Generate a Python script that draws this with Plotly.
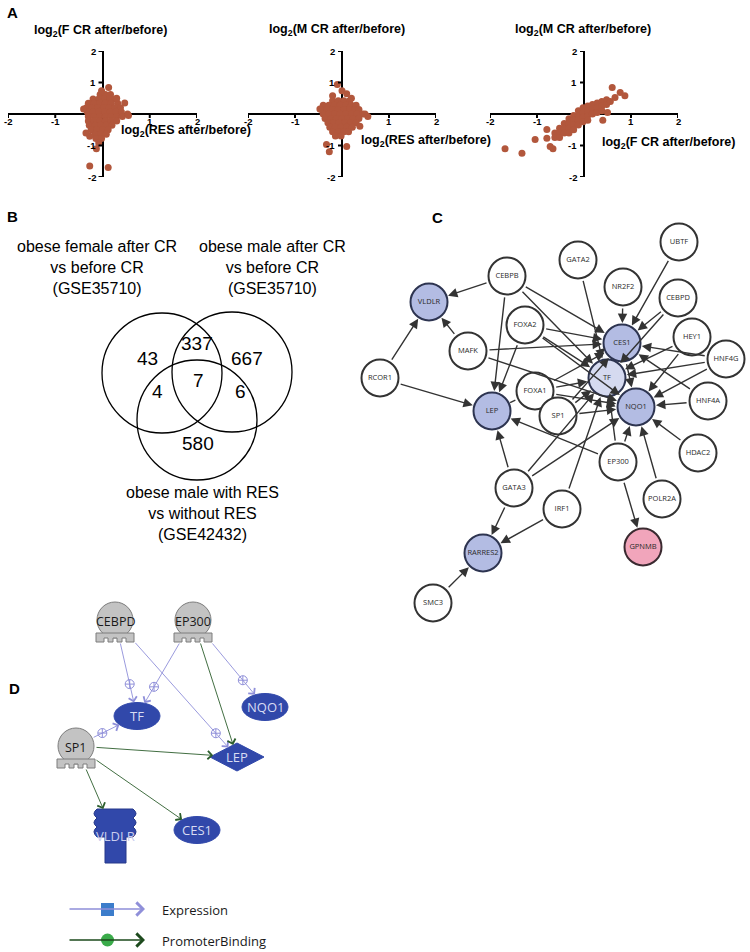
import math
import plotly.graph_objects as go

W, H = 750, 952
BROWN = "#b2573c"

# ---------------- Panel A data (log2 ratios) ----------------
a1_points = [  # x: log2(RES after/before), y: log2(F CR after/before)
    (-0.05, 0.62), (0.06, 0.62), (0.17, 0.62),
    (-0.2, 0.48), (-0.08, 0.48), (0.04, 0.48), (0.15, 0.48), (0.27, 0.48),
    (-0.3, 0.34), (-0.18, 0.34), (-0.06, 0.34), (0.06, 0.34), (0.18, 0.34), (0.32, 0.34),
    (-0.34, 0.2), (-0.22, 0.2), (-0.1, 0.2), (0.02, 0.2), (0.14, 0.2), (0.26, 0.2), (0.38, 0.2),
    (-0.32, 0.06), (-0.2, 0.06), (-0.08, 0.06), (0.04, 0.06), (0.16, 0.06), (0.28, 0.06), (0.4, 0.06),
    (-0.3, -0.08), (-0.18, -0.08), (-0.06, -0.08), (0.06, -0.08), (0.18, -0.08), (0.3, -0.08), (0.42, -0.08),
    (-0.3, -0.22), (-0.18, -0.22), (-0.06, -0.22), (0.06, -0.22), (0.18, -0.22), (0.3, -0.22),
    (-0.28, -0.36), (-0.16, -0.36), (-0.04, -0.36), (0.08, -0.36), (0.2, -0.36),
    (-0.24, -0.5), (-0.12, -0.5), (0.0, -0.5), (0.12, -0.5),
    (-0.16, -0.64), (-0.04, -0.64), (0.08, -0.64),
    (-0.14, -0.78), (-0.02, -0.78), (-0.08, -0.92),
    (0.13, 0.84), (-0.02, 0.74), (-0.4, 0.16), (0.53, 0.0), (0.47, 0.35), (0.55, -0.05),
    (-0.27, -0.71), (-0.13, -1.1), (-0.27, -1.65), (0.12, -1.7), (-0.35, -0.6), (0.3, 0.5),
]
a2_points = [  # x: log2(RES after/before), y: log2(M CR after/before)
    (-0.2, 0.42), (-0.08, 0.42), (0.04, 0.42), (0.16, 0.42),
    (-0.4, 0.28), (-0.28, 0.28), (-0.16, 0.28), (-0.04, 0.28), (0.08, 0.28), (0.2, 0.28), (0.3, 0.28),
    (-0.44, 0.14), (-0.32, 0.14), (-0.2, 0.14), (-0.08, 0.14), (0.04, 0.14), (0.16, 0.14), (0.28, 0.14), (0.36, 0.14),
    (-0.4, 0.0), (-0.28, 0.0), (-0.16, 0.0), (-0.04, 0.0), (0.08, 0.0), (0.2, 0.0), (0.32, 0.0), (0.44, 0.0),
    (-0.36, -0.14), (-0.24, -0.14), (-0.12, -0.14), (0.0, -0.14), (0.12, -0.14), (0.24, -0.14), (0.36, -0.14),
    (-0.3, -0.28), (-0.18, -0.28), (-0.06, -0.28), (0.06, -0.28), (0.18, -0.28), (0.3, -0.28),
    (-0.26, -0.42), (-0.14, -0.42), (-0.02, -0.42), (0.1, -0.42), (0.22, -0.42),
    (-0.2, -0.56), (-0.08, -0.56), (0.04, -0.56), (0.14, -0.56),
    (-0.14, -0.7), (-0.02, -0.7),
    (-0.1, 0.94), (0.0, 0.74), (0.1, 0.64), (-0.2, 0.58), (0.49, 0.0), (0.55, -0.08),
    (-0.33, -0.97), (-0.27, -1.2), (0.1, -1.03), (0.38, -0.39), (-0.47, 0.16), (0.2, 0.5),
]
a3_points = [  # x: log2(F CR after/before), y: log2(M CR after/before)
    (-0.62, -0.6), (-0.62, -0.75),
    (-0.52, -0.45), (-0.52, -0.6), (-0.52, -0.75),
    (-0.42, -0.3), (-0.42, -0.45), (-0.42, -0.6),
    (-0.32, -0.15), (-0.32, -0.3), (-0.32, -0.45), (-0.32, -0.6),
    (-0.22, -0.05), (-0.22, -0.2), (-0.22, -0.35), (-0.22, -0.5),
    (-0.12, 0.1), (-0.12, -0.05), (-0.12, -0.2), (-0.12, -0.35),
    (-0.02, 0.2), (-0.02, 0.05), (-0.02, -0.1), (-0.02, -0.25),
    (0.08, 0.25), (0.08, 0.1), (0.08, -0.05), (0.08, -0.2),
    (0.18, 0.3), (0.18, 0.15), (0.18, 0.0),
    (0.28, 0.35), (0.28, 0.2), (0.28, 0.05),
    (0.38, 0.4), (0.38, 0.25), (0.38, 0.1),
    (0.48, 0.45), (0.48, 0.3), (0.56, 0.4),
    (-1.68, -1.1), (-1.32, -1.25), (-1.04, -0.81), (-0.79, -0.49), (-0.72, -1.03), (-0.66, -1.1),
    (0.6, 0.84), (0.77, 0.68), (0.87, 0.58), (0.66, 0.52), (-0.79, -0.77), (0.4, -0.2), (0.5, 0.05),
]
a_y_titles = ["log<sub>2</sub>(F CR after/before)", "log<sub>2</sub>(M CR after/before)",
              "log<sub>2</sub>(M CR after/before)"]
a_x_titles = ["log<sub>2</sub>(RES after/before)", "log<sub>2</sub>(RES after/before)",
              "log<sub>2</sub>(F CR after/before)"]
a_ticks = [-2, -1, 1, 2]

# ---------------- Panel B data (Venn counts) ----------------
venn_sets = ["obese female after CR<br>vs before CR<br>(GSE35710)",
             "obese male after CR<br>vs before CR<br>(GSE35710)",
             "obese male with RES<br>vs without RES<br>(GSE42432)"]
venn_counts = [43, 337, 667, 7, 4, 6, 580]

# ---------------- Panel C data (regulatory network) ----------------
c_nodes = ["UBTF", "GATA2", "CEBPB", "NR2F2", "CEBPD", "VLDLR", "FOXA2", "CES1", "HEY1", "MAFK",
           "HNF4G", "RCOR1", "TF", "FOXA1", "NQO1", "HNF4A", "LEP", "SP1", "HDAC2", "EP300",
           "GATA3", "POLR2A", "IRF1", "RARRES2", "GPNMB", "SMC3"]
c_x = [679, 578, 507, 623, 678, 429, 525, 622, 692, 468, 726, 380, 607, 535, 636, 708, 492, 558,
       698, 618, 514, 662, 562, 483, 643, 433]
c_y = [242, 260, 276, 287, 298, 302, 325, 343, 337, 351, 359, 378, 378, 391, 407, 401, 411, 416,
       453, 462, 488, 499, 509, 553, 547, 603]
c_down = ["VLDLR", "CES1", "NQO1", "LEP", "RARRES2"]
c_light = ["TF"]
c_up = ["GPNMB"]
c_edges = [
    ("CEBPB", "VLDLR"), ("CEBPB", "LEP"), ("CEBPB", "CES1"), ("CEBPB", "TF"),
    ("MAFK", "VLDLR"), ("MAFK", "CES1"), ("MAFK", "NQO1"),
    ("RCOR1", "VLDLR"), ("RCOR1", "LEP"),
    ("FOXA2", "LEP"), ("FOXA2", "CES1"), ("FOXA2", "TF"), ("FOXA2", "NQO1"),
    ("GATA2", "TF"), ("NR2F2", "CES1"), ("UBTF", "CES1"), ("CEBPD", "CES1"), ("CEBPD", "TF"),
    ("HEY1", "TF"), ("HEY1", "NQO1"),
    ("HNF4G", "CES1"), ("HNF4G", "TF"), ("HNF4G", "NQO1"),
    ("HNF4A", "NQO1"), ("HNF4A", "CES1"), ("HDAC2", "NQO1"),
    ("FOXA1", "CES1"), ("FOXA1", "TF"), ("FOXA1", "NQO1"),
    ("SP1", "TF"), ("SP1", "NQO1"), ("SP1", "CES1"),
    ("EP300", "LEP"), ("EP300", "NQO1"), ("EP300", "TF"), ("EP300", "GPNMB"),
    ("GATA3", "LEP"), ("GATA3", "RARRES2"), ("GATA3", "TF"), ("GATA3", "NQO1"),
    ("IRF1", "RARRES2"), ("IRF1", "TF"), ("POLR2A", "NQO1"), ("SMC3", "RARRES2"),
    ("CES1", "NQO1"),
]
c_plain_edges = [("FOXA1", "LEP")]

# ---------------- Panel D data (IPA pathway) ----------------
d_regs = ["CEBPD", "EP300", "SP1"]
d_reg_x = [115, 193, 76]
d_reg_y = [620, 620, 746]
d_targets = ["TF", "NQO1", "LEP", "CES1", "VLDLR"]
d_tgt_kind = ["ellipse", "ellipse", "diamond", "ellipse", "receptor"]
d_tgt_x = [137, 265, 237, 197, 115]
d_tgt_y = [716, 707, 757, 830, 836]
d_edges = [("CEBPD", "TF", "Expression"), ("CEBPD", "LEP", "Expression"),
           ("EP300", "TF", "Expression"), ("EP300", "LEP", "PromoterBinding"),
           ("EP300", "NQO1", "Expression"), ("SP1", "TF", "Expression"),
           ("SP1", "LEP", "PromoterBinding"), ("SP1", "VLDLR", "PromoterBinding"),
           ("SP1", "CES1", "PromoterBinding")]
d_edge_types = ["Expression", "PromoterBinding"]

EXPR_C = "#8f8fd9"
PB_C = "#2c5e2c"
BLUE = "#3148aa"
GRAY = "#c3c3c3"

fig = go.Figure()
layout = dict(width=W, height=H, margin=dict(l=0, r=0, t=0, b=0), autosize=False,
              paper_bgcolor="white", plot_bgcolor="rgba(0,0,0,0)", showlegend=False)
shapes, annotations = [], []

# ---------------- Panel A ----------------
a_xpix = [(8, 197), (248, 436), (490, 678)]
a_ypix = (51, 177)
a_sets = [a1_points, a2_points, a3_points]
a_ytitle_pos = [(100, 31), (337, 30), (583, 30)]
a_xtitle_pos = [(186, 131), (426, 141), (668, 143)]
BOLD = "Liberation Sans"
for i, pts in enumerate(a_sets):
    sfx = "" if i == 0 else str(i + 1)
    xa, ya = "x" + sfx, "y" + sfx
    fig.add_trace(go.Scatter(x=[p[0] for p in pts], y=[p[1] for p in pts], xaxis=xa, yaxis=ya,
                             mode="markers", marker=dict(size=7, color=BROWN, line=dict(width=0)),
                             hoverinfo="skip"))
    x0, x1 = a_xpix[i]
    common = dict(showgrid=False, showticklabels=False, ticks="", showline=False,
                  zeroline=True, zerolinecolor="black", zerolinewidth=2, range=[-2, 2],
                  fixedrange=True)
    layout["xaxis" + sfx] = dict(domain=[x0 / W, x1 / W], anchor=ya, **common)
    layout["yaxis" + sfx] = dict(domain=[1 - a_ypix[1] / H, 1 - a_ypix[0] / H], anchor=xa, **common)
    for t in a_ticks:
        shapes.append(dict(type="line", xref=xa, yref=ya, x0=t, x1=t, ysizemode="pixel",
                           yanchor=0, y0=0, y1=-4, line=dict(color="black", width=2)))
        shapes.append(dict(type="line", xref=xa, yref=ya, y0=t, y1=t, xsizemode="pixel",
                           xanchor=0, x0=0, x1=-4, line=dict(color="black", width=2)))
        annotations.append(dict(xref=xa, yref=ya, x=t, y=0, yshift=-7, yanchor="middle",
                                text="<b>%d</b>" % t, showarrow=False, borderpad=0,
                                font=dict(family=BOLD, size=9.5, color="black")))
        annotations.append(dict(xref=xa, yref=ya, x=0, y=t, xshift=-5, xanchor="right",
                                text="<b>%d</b>" % t, showarrow=False,
                                font=dict(family=BOLD, size=9.5, color="black")))

# overlay axis in figure-pixel units for panels B-D
layout["xaxis4"] = dict(domain=[0, 1], range=[0, W], anchor="y4", visible=False, fixedrange=True)
layout["yaxis4"] = dict(domain=[0, 1], range=[H, 0], anchor="x4", visible=False, fixedrange=True)


def txt(x, y, s, size, color="black", family="Liberation Sans", xanchor="center", **kw):
    annotations.append(dict(xref="x4", yref="y4", x=x, y=y, text=s, showarrow=False,
                            xanchor=xanchor, yanchor="middle",
                            font=dict(family=family, size=size, color=color), **kw))


for (cx, cy), s in zip(a_ytitle_pos, a_y_titles):
    txt(cx, cy, "<b>%s</b>" % s, 12.5)
for (cx, cy), s in zip(a_xtitle_pos, a_x_titles):
    txt(cx, cy, "<b>%s</b>" % s, 12.5, borderpad=0)

# panel letters
for letter, (lx, ly) in zip("ABCD", [(12, 12), (12, 216), (437, 217), (14, 688)]):
    txt(lx, ly, "<b>%s</b>" % letter, 15)

# ---------------- Panel B (Venn) ----------------
venn_circles = [(162, 373), (232, 372), (197, 420)]
venn_r = 60
for (vx, vy) in venn_circles:
    shapes.append(dict(type="circle", xref="x4", yref="y4", x0=vx - venn_r, x1=vx + venn_r,
                       y0=vy - venn_r, y1=vy + venn_r, line=dict(color="black", width=1.3)))
venn_count_pos = [(147, 358), (197, 343), (247, 358), (198, 380), (157, 391), (240, 391), (198, 443)]
for (vx, vy), n in zip(venn_count_pos, venn_counts):
    txt(vx, vy, str(n), 19)
venn_label_pos = [(97, 267), (272, 267), (202, 513)]
for (vx, vy), s in zip(venn_label_pos, venn_sets):
    txt(vx, vy, s, 16)

# ---------------- Panel C (network) ----------------
R = 19
pos = {n: (x, y) for n, x, y in zip(c_nodes, c_x, c_y)}
for src, tgt in c_edges + c_plain_edges:
    sx, sy = pos[src]
    tx, ty = pos[tgt]
    plain = (src, tgt) in c_plain_edges
    annotations.append(dict(xref="x4", yref="y4", axref="x4", ayref="y4", x=tx, y=ty, ax=sx, ay=sy,
                            text="", showarrow=True, arrowhead=0 if plain else 2, arrowsize=1.35,
                            arrowwidth=1.4, arrowcolor="#333333", standoff=R + 1,
                            startstandoff=R + 1))
fills, lines, tcol = [], [], []
for n in c_nodes:
    if n in c_down:
        fills.append("#b3bce3"); lines.append("#2d3450")
    elif n in c_light:
        fills.append("#d5daf0"); lines.append("#2d3450")
    elif n in c_up:
        fills.append("#f1a5bb"); lines.append("#3a2a30")
    else:
        fills.append("white"); lines.append("#333333")
    tcol.append("#2a2a2a")
fig.add_trace(go.Scatter(x=c_x, y=c_y, xaxis="x4", yaxis="y4", mode="markers+text", text=c_nodes,
                         textposition="middle center",
                         textfont=dict(family="Open Sans", size=7.5, color=tcol),
                         marker=dict(size=2 * R - 1, color=fills, line=dict(color=lines, width=2)),
                         hoverinfo="skip"))

# ---------------- Panel D (pathway) ----------------
reg = {n: (x, y) for n, x, y in zip(d_regs, d_reg_x, d_reg_y)}
tgt = {n: (x, y, k) for n, x, y, k in zip(d_targets, d_tgt_x, d_tgt_y, d_tgt_kind)}
geom = {"ellipse": (23, 13.5), "diamond": (27, 14), "receptor": (20, 27)}

for n, (cx, cy) in reg.items():
    shapes.append(dict(type="circle", xref="x4", yref="y4", x0=cx - 18, x1=cx + 18, y0=cy - 18,
                       y1=cy + 18, fillcolor=GRAY, line=dict(color="#7d7d7d", width=1)))
    p = [(-19, 13), (19, 13), (19, 22), (11, 22), (11, 18), (7, 18), (7, 22), (2, 22), (2, 18),
         (-2, 18), (-2, 22), (-7, 22), (-7, 18), (-11, 18), (-11, 22), (-19, 22)]
    path = "M " + " L ".join("%g,%g" % (cx + a, cy + b) for a, b in p) + " Z"
    shapes.append(dict(type="path", xref="x4", yref="y4", path=path, fillcolor=GRAY,
                       line=dict(color="#7d7d7d", width=1)))
    txt(cx, cy + 1, n, 12.5, color="#1a1a1a", family="Open Sans")

for n, (cx, cy, k) in tgt.items():
    hw, hh = geom[k]
    if k == "ellipse":
        shapes.append(dict(type="circle", xref="x4", yref="y4", x0=cx - hw, x1=cx + hw,
                           y0=cy - hh, y1=cy + hh, fillcolor=BLUE, line=dict(color=BLUE, width=1)))
        txt(cx, cy, n, 13, color="#d8dcf3", family="Open Sans")
    elif k == "diamond":
        path = "M %g,%g L %g,%g L %g,%g L %g,%g Z" % (cx - hw, cy, cx, cy - hh, cx + hw, cy, cx, cy + hh)
        shapes.append(dict(type="path", xref="x4", yref="y4", path=path, fillcolor=BLUE,
                           line=dict(color=BLUE, width=1)))
        txt(cx, cy, n, 13, color="#d8dcf3", family="Open Sans")
    else:
        top = cy - hh
        path = ("M {a},{t} L {b},{t} Q {bo},{t1} {b},{t2} Q {bo},{t3} {b},{t4} Q {bo},{t5} {b},{t6} "
                "L {c},{t6} L {c},{bot} L {d},{bot} L {d},{t6} L {a},{t6} Q {ao},{t5} {a},{t4} "
                "Q {ao},{t3} {a},{t2} Q {ao},{t1} {a},{t} Z").format(
            a=cx - 18, b=cx + 18, ao=cx - 24, bo=cx + 24, c=cx + 11, d=cx - 10,
            t=top, t1=top + 4.5, t2=top + 9, t3=top + 13.5, t4=top + 18, t5=top + 22.5,
            t6=top + 28, bot=cy + hh)
        shapes.append(dict(type="path", xref="x4", yref="y4", path=path, fillcolor=BLUE,
                           line=dict(color="#27398a", width=1)))
        txt(cx, top + 27, n, 13, color="#c9cdee", family="Open Sans")


def tgt_dist(k, ux, uy):
    hw, hh = geom[k]
    if k == "ellipse":
        return 1 / math.sqrt((ux / hw) ** 2 + (uy / hh) ** 2)
    if k == "diamond":
        return 1 / (abs(ux) / hw + abs(uy) / hh)
    return min(hw / max(abs(ux), 1e-9), hh / max(abs(uy), 1e-9))


plus_x, plus_y = [], []
for s, t, kind in d_edges:
    sx, sy = reg[s]
    tx, ty, k = tgt[t]
    dx, dy = tx - sx, ty - sy
    L = math.hypot(dx, dy)
    ux, uy = dx / L, dy / L
    start = min(22 / uy if uy > 0 else 18, 19 / max(abs(ux), 1e-9))
    end = tgt_dist(k, ux, uy)
    color = EXPR_C if kind == "Expression" else PB_C
    annotations.append(dict(xref="x4", yref="y4", axref="x4", ayref="y4", x=tx, y=ty, ax=sx, ay=sy,
                            text="", showarrow=True, arrowhead=4, arrowsize=1.8, arrowwidth=0.9,
                            arrowcolor=color, standoff=end, startstandoff=start))
    if kind == "Expression":
        plus_x.append(tx - ux * (end + 19))
        plus_y.append(ty - uy * (end + 19))
fig.add_trace(go.Scatter(x=plus_x, y=plus_y, xaxis="x4", yaxis="y4", mode="markers",
                         marker=dict(symbol="circle-cross-open", size=9, color=EXPR_C,
                                     line=dict(width=1)), hoverinfo="skip"))

# legend of panel D
leg_y = [909, 940]
leg_line = [EXPR_C, "#1d4a1d"]
for ly, name, lc in zip(leg_y, d_edge_types, leg_line):
    annotations.append(dict(xref="x4", yref="y4", axref="x4", ayref="y4", x=145, y=ly, ax=68, ay=ly,
                            text="", showarrow=True, arrowhead=4, arrowsize=1.7, arrowwidth=1.5,
                            arrowcolor=lc))
    txt(160, ly + 1, name, 13, color="#1a1a1a", family="Open Sans", xanchor="left")
shapes.append(dict(type="rect", xref="x4", yref="y4", x0=101, x1=114, y0=903, y1=916,
                   fillcolor="#3c7dcb", line=dict(width=0)))
shapes.append(dict(type="circle", xref="x4", yref="y4", x0=101, x1=114, y0=933.5, y1=946.5,
                   fillcolor="#3aab4a", line=dict(width=0)))

layout["shapes"] = shapes
layout["annotations"] = annotations
fig.update_layout(**layout)
fig.write_html("out.html", config={"displayModeBar": False},
               post_script="document.body.style.margin='0px';")
